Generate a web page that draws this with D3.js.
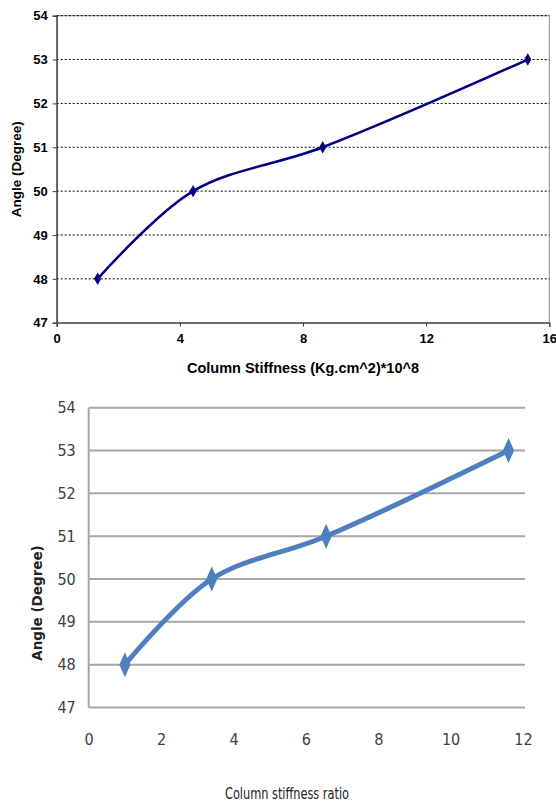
<!DOCTYPE html>
<html>
<head>
<meta charset="utf-8">
<script src="https://cdn.jsdelivr.net/npm/d3@7"></script>
<style>
  html, body { margin: 0; padding: 0; background: #fff; }
  svg { display: block; }
</style>
</head>
<body>
<svg id="chart" width="556" height="804"></svg>
<script>
// ---- Data ----
const stiffness = [1.33, 4.43, 8.64, 15.3];        // top chart x (Kg.cm^2 *10^8)
const stiffnessRatio = [1.0, 3.4, 6.56, 11.6];      // bottom chart x
const angles = [48, 50, 51, 53];                    // y (degree)
const topXTicks = [0, 4, 8, 12, 16];
const bottomXTicks = [0, 2, 4, 6, 8, 10, 12];
const yTicks = [47, 48, 49, 50, 51, 52, 53, 54];

const svg = d3.select("#chart");

function diamond(size) { return d3.symbol().type(d3.symbolDiamond).size(size)(); }

// ================= TOP CHART =================
(function () {
  const L = 56.7, R = 549.3, T = 15.7, B = 322.7;
  const x = d3.scaleLinear().domain([0, 16]).range([L, R]);
  const y = d3.scaleLinear().domain([47, 54]).range([B, T]);
  const g = svg.append("g");
  const font = "'Liberation Sans', Arimo, Arial, sans-serif";

  g.append("rect").attr("x", L).attr("y", T).attr("width", R - L).attr("height", B - T)
    .attr("fill", "none").attr("stroke", "#8c8c8c").attr("stroke-width", 1);

  g.selectAll(".grid").data(yTicks.filter(d => d > 47)).join("line")
    .attr("x1", L).attr("x2", R)
    .attr("y1", d => y(d)).attr("y2", d => y(d))
    .attr("stroke", "#000").attr("stroke-width", 1).attr("stroke-dasharray", "2,2");

  const yAxis = d3.axisLeft(y).tickValues(yTicks).tickSize(4).tickPadding(5).tickFormat(d3.format("d"));
  const xAxis = d3.axisBottom(x).tickValues(topXTicks).tickSize(4).tickPadding(7).tickFormat(d3.format("d"));
  const ya = g.append("g").attr("transform", `translate(${L},0)`).call(yAxis);
  const xa = g.append("g").attr("transform", `translate(0,${B})`).call(xAxis);
  [ya, xa].forEach(a => {
    a.select(".domain").attr("stroke", "#404040").attr("stroke-width", 1.3);
    a.selectAll(".tick line").attr("stroke", "#404040");
    a.selectAll("text").attr("font-family", font).attr("font-weight", "bold")
      .attr("font-size", 13).attr("fill", "#000");
  });

  const pts = stiffness.map((v, i) => [v, angles[i]]);
  g.append("path").datum(pts)
    .attr("d", d3.line().x(d => x(d[0])).y(d => y(d[1])).curve(d3.curveCatmullRom.alpha(0.5)))
    .attr("fill", "none").attr("stroke", "#000080").attr("stroke-width", 2.5);
  g.selectAll(".mk").data(pts).join("path")
    .attr("d", diamond(45))
    .attr("transform", d => `translate(${x(d[0])},${y(d[1])})`)
    .attr("fill", "#000080");

  g.append("text").attr("x", 303).attr("y", 373).attr("text-anchor", "middle")
    .attr("font-family", font).attr("font-weight", "bold").attr("font-size", 14.5)
    .text("Column Stiffness (Kg.cm^2)*10^8");
  g.append("text").attr("transform", `translate(21,${(T + B) / 2}) rotate(-90)`)
    .attr("text-anchor", "middle")
    .attr("font-family", font).attr("font-weight", "bold").attr("font-size", 13.5)
    .text("Angle (Degree)");
})();

// ================= BOTTOM CHART =================
(function () {
  const L = 88.7, R = 523, T = 407.7, B = 707.5;
  const x = d3.scaleLinear().domain([0, 12]).range([L, R]);
  const y = d3.scaleLinear().domain([47, 54]).range([B, T]);
  const g = svg.append("g");
  const narrow = "'Liberation Sans Narrow', 'DejaVu Sans Condensed', 'Roboto Condensed', sans-serif";
  const grey = "#a6a6a6";

  g.selectAll(".grid").data(yTicks).join("line")
    .attr("x1", L).attr("x2", x(12) + 2)
    .attr("y1", d => y(d)).attr("y2", d => y(d))
    .attr("stroke", grey).attr("stroke-width", 2);
  g.append("line").attr("x1", L).attr("x2", L).attr("y1", T).attr("y2", B)
    .attr("stroke", grey).attr("stroke-width", 2);

  const yAxis = d3.axisLeft(y).tickValues(yTicks).tickSize(0).tickPadding(13).tickFormat(d3.format("d"));
  const ya = g.append("g").attr("transform", `translate(${L},0)`).call(yAxis);
  ya.select(".domain").remove();
  ya.selectAll("text").attr("font-family", narrow).attr("font-size", 16).attr("fill", "#404040");

  const xAxis = d3.axisBottom(x).tickValues(bottomXTicks).tickSize(0).tickPadding(26).tickFormat(d3.format("d"));
  const xa = g.append("g").attr("transform", `translate(0,${B})`).call(xAxis);
  xa.select(".domain").remove();
  xa.selectAll("text").attr("font-family", narrow).attr("font-size", 16).attr("fill", "#404040");

  const pts = stiffnessRatio.map((v, i) => [v, angles[i]]);
  g.append("path").datum(pts)
    .attr("d", d3.line().x(d => x(d[0])).y(d => y(d[1])).curve(d3.curveCatmullRom.alpha(0.5)))
    .attr("fill", "none").attr("stroke", "#4f7fbf").attr("stroke-width", 5)
    .attr("stroke-linecap", "round");
  g.selectAll(".mk").data(pts).join("path")
    .attr("d", diamond(150))
    .attr("transform", d => `translate(${x(d[0])},${y(d[1])}) scale(0.85,1.1)`)
    .attr("fill", "#4f7fbf");

  g.append("text").attr("x", 287).attr("y", 799).attr("text-anchor", "middle")
    .attr("font-family", narrow).attr("font-size", 16).attr("fill", "#222")
    .attr("textLength", 124).attr("lengthAdjust", "spacingAndGlyphs")
    .text("Column stiffness ratio");
  g.append("text").attr("transform", `translate(42,603) rotate(-90)`)
    .attr("text-anchor", "middle")
    .attr("font-family", "'DejaVu Sans', Verdana, sans-serif").attr("font-weight", "bold")
    .attr("font-size", 13.5).attr("fill", "#222")
    .text("Angle (Degree)");
})();
</script>
</body>
</html>
